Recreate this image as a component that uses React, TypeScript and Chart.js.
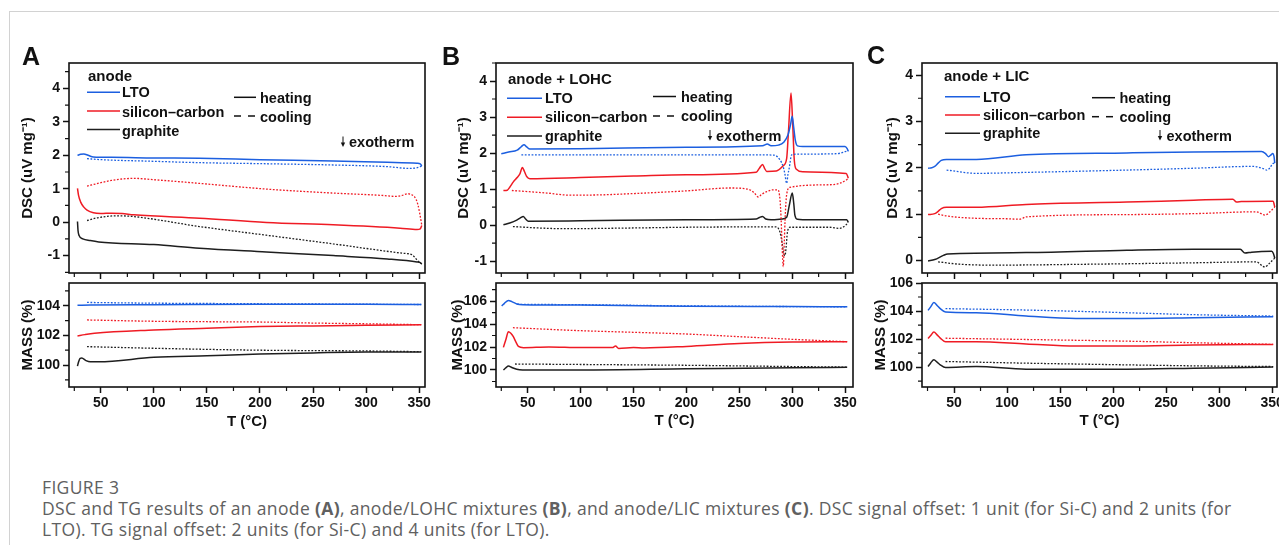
import React, { useEffect, useRef } from 'react';
import { Chart, registerables } from 'chart.js';
Chart.register(...registerables);

type Pt = [number, number];

// ---------------- Panel A : anode ----------------
const aLtoDscHeat: Pt[] = [[28,2.0],[31,2.03],[34,2.04],[38,2.0],[43,1.95],[60,1.94],[100,1.92],[143,1.91],[200,1.87],[269,1.83],[320,1.79],[348,1.76],[351,1.74],[352.5,1.68]];
const aLtoDscCool: Pt[] = [[37,1.9],[50,1.87],[100,1.82],[143,1.78],[200,1.75],[269,1.71],[320,1.66],[340,1.61],[347,1.62],[350,1.65],[352.5,1.68]];
const aSicDscHeat: Pt[] = [[28,1.01],[29,0.8],[31,0.6],[34,0.45],[37,0.36],[43,0.28],[50,0.26],[60,0.27],[70,0.26],[81,0.22],[143,0.12],[206,-0.01],[269,-0.08],[332,-0.18],[348,-0.22],[351,-0.2],[352.5,-0.1]];
const aSicDscCool: Pt[] = [[37,1.08],[50,1.18],[60,1.25],[81,1.31],[100,1.27],[143,1.16],[206,0.99],[269,0.87],[315,0.8],[328,0.77],[334,0.8],[339,0.85],[343,0.82],[347,0.69],[349,0.5],[350.5,0.27],[352.5,-0.1]];
const aGraDscHeat: Pt[] = [[28,0.02],[28.5,-0.25],[29.5,-0.4],[33,-0.5],[40,-0.55],[48,-0.59],[100,-0.67],[143,-0.78],[206,-0.89],[269,-1.0],[320,-1.1],[348,-1.19],[351,-1.21],[352.5,-1.25]];
const aGraDscCool: Pt[] = [[37,0.05],[45,0.12],[55,0.17],[65,0.19],[80,0.17],[143,-0.13],[206,-0.39],[269,-0.65],[335,-0.93],[343,-0.97],[348,-1.13],[350,-1.2],[352.5,-1.25]];

const aLtoMassHeat: Pt[] = [[28,104.03],[40,104.05],[100,104.07],[200,104.1],[300,104.1],[352,104.08]];
const aLtoMassCool: Pt[] = [[37,104.22],[60,104.2],[100,104.17],[150,104.15],[200,104.13],[300,104.1],[352,104.08]];
const aSicMassHeat: Pt[] = [[28,101.96],[35,102.05],[44,102.14],[100,102.36],[150,102.48],[200,102.59],[250,102.64],[300,102.68],[352,102.72]];
const aSicMassCool: Pt[] = [[37,103.04],[100,102.95],[150,102.92],[200,102.9],[250,102.83],[300,102.78],[352,102.72]];
const aGraMassHeat: Pt[] = [[28,99.93],[29,100.2],[30.5,100.45],[32,100.47],[36,100.3],[40,100.22],[48,100.22],[100,100.52],[150,100.63],[200,100.74],[250,100.82],[300,100.88],[352,100.88]];
const aGraMassCool: Pt[] = [[37,101.24],[100,101.13],[200,101.0],[300,100.95],[352,100.9]];

// ---------------- Panel B : anode + LOHC ----------------
const bLtoDscHeat: Pt[] = [[25,1.98],[32,2.03],[40,2.08],[44,2.18],[46.5,2.23],[49,2.17],[52,2.11],[100,2.12],[200,2.16],[272,2.2],[276.5,2.25],[280,2.2],[287,2.22],[292,2.3],[296,2.5],[298.5,2.8],[300,3.02],[301.5,2.7],[303,2.35],[305,2.2],[310,2.18],[350,2.18],[352,2.12],[353,2.05]];
const bLtoDscCool: Pt[] = [[44,1.95],[100,1.95],[200,1.95],[270,1.95],[283,1.94],[288.5,1.81],[291.5,1.62],[293,1.44],[294.8,1.16],[296,1.4],[297.3,1.6],[299.5,1.95],[305,1.97],[340,1.98],[346,2.0],[350,2.04],[353,2.05]];
const bSicDscHeat: Pt[] = [[27,0.96],[30.7,0.97],[33,1.05],[36.4,1.2],[40,1.32],[42.7,1.43],[44.9,1.6],[47,1.48],[49,1.35],[52,1.29],[100,1.32],[150,1.36],[200,1.4],[266,1.47],[269,1.58],[272,1.68],[274,1.57],[276,1.49],[285,1.5],[291.6,1.65],[294.8,1.85],[296.4,2.55],[298.9,3.67],[300.5,2.8],[302,1.8],[304,1.55],[310,1.48],[351,1.43],[352.5,1.35],[353,1.3]];
const bSicDscCool: Pt[] = [[35,0.96],[50,0.93],[68,0.89],[90,0.83],[120,0.84],[146,0.87],[200,0.95],[241,1.03],[258,1.0],[264,0.9],[268,0.78],[271,0.85],[276,0.93],[282,0.98],[286.5,0.98],[288.5,0.7],[289.5,0.2],[290.5,-0.6],[291.6,-1.15],[292.5,-0.5],[293.5,0.3],[294.8,0.85],[297.9,1.05],[335,1.12],[345,1.16],[351.5,1.26],[353,1.3]];
const bGraDscHeat: Pt[] = [[27,0.01],[33,0.06],[39.6,0.14],[43,0.2],[45.8,0.24],[48,0.17],[50.6,0.11],[100,0.12],[200,0.15],[266,0.17],[269,0.21],[272,0.24],[275,0.17],[280,0.15],[290,0.17],[294.8,0.22],[297.3,0.55],[300.1,0.89],[301.5,0.6],[302.6,0.27],[305,0.16],[310,0.15],[351.5,0.15],[353,0.08]];
const bGraDscCool: Pt[] = [[36,-0.04],[60,-0.08],[84,-0.1],[150,-0.08],[200,-0.06],[260,-0.05],[285,-0.05],[288.5,-0.2],[290.5,-0.5],[291.6,-0.75],[293.2,-0.85],[294.3,-0.6],[295.4,-0.22],[297.9,-0.06],[335,-0.06],[345,-0.09],[351,0.01],[353,0.08]];

const bLtoMassHeat: Pt[] = [[25.4,105.57],[28,105.8],[31.7,106.05],[35,105.95],[39.6,105.75],[45,105.68],[100,105.65],[200,105.55],[300,105.52],[352,105.5]];
const bLtoMassCool: Pt[] = [[40,105.72],[100,105.68],[200,105.58],[300,105.52],[352,105.5]];
const bSicMassHeat: Pt[] = [[27,101.97],[29.5,102.7],[31.7,103.33],[34,103.2],[36.4,102.9],[39,102.4],[41.2,102.05],[46,101.94],[70,102.0],[100,101.95],[130,101.95],[133,102.08],[136,101.88],[150,101.95],[160,101.92],[200,102.05],[250,102.3],[300,102.43],[352,102.46]];
const bSicMassCool: Pt[] = [[36,103.68],[100,103.42],[150,103.28],[200,103.13],[250,102.9],[300,102.67],[352,102.46]];
const bGraMassHeat: Pt[] = [[27,100.0],[29.5,100.2],[31.7,100.35],[35,100.22],[39.6,100.06],[45,100.0],[100,100.0],[200,100.1],[300,100.2],[352,100.23]];
const bGraMassCool: Pt[] = [[38,100.52],[100,100.48],[200,100.41],[300,100.3],[352,100.25]];

// ---------------- Panel C : anode + LIC ----------------
const cLtoDscHeat: Pt[] = [[25.5,1.99],[29,2.0],[31.8,2.03],[35,2.1],[38,2.16],[42.8,2.18],[71,2.18],[118,2.28],[213,2.32],[276,2.34],[340,2.35],[344,2.3],[346.5,2.24],[349,2.28],[350.6,2.31],[351.8,2.24],[352.5,2.1]];
const cLtoDscCool: Pt[] = [[43,1.95],[71,1.88],[118,1.9],[213,1.95],[276,1.99],[332,2.03],[341.7,1.98],[345,1.95],[348,2.0],[350.6,2.09],[352.5,2.1]];
const cSicDscHeat: Pt[] = [[25.5,0.99],[31.8,1.01],[35,1.06],[38,1.12],[42.8,1.15],[71,1.15],[118,1.21],[213,1.26],[276,1.3],[313,1.32],[316.5,1.26],[321,1.27],[348,1.28],[351,1.28],[352,1.2],[352.5,1.15]];
const cSicDscCool: Pt[] = [[35,1.0],[43,0.96],[71,0.91],[100,0.9],[112,0.89],[118,0.94],[213,0.99],[276,1.01],[335,1.05],[343.3,0.98],[348,1.05],[351,1.12],[352.5,1.15]];
const cGraDscHeat: Pt[] = [[25.5,-0.01],[31.8,0.02],[40,0.11],[44,0.14],[118,0.17],[213,0.22],[276,0.24],[320,0.24],[324.4,0.16],[330.7,0.18],[349.6,0.2],[351.2,0.15],[352.5,0.05]];
const cGraDscCool: Pt[] = [[35,-0.03],[55,-0.08],[87,-0.1],[180,-0.08],[276,-0.05],[335,-0.03],[343,-0.14],[348,-0.05],[351,0.02],[352.5,0.05]];

const cLtoMassHeat: Pt[] = [[25.5,104.05],[28,104.3],[31,104.6],[34,104.4],[37,104.17],[42,103.93],[71,103.88],[118,103.64],[165,103.47],[213,103.47],[276,103.52],[351,103.6]];
const cLtoMassCool: Pt[] = [[42,104.17],[118,104.07],[213,103.88],[276,103.74],[351,103.64]];
const cSicMassHeat: Pt[] = [[25.5,102.04],[28,102.25],[31,102.5],[34,102.3],[37,102.07],[42,101.8],[71,101.8],[118,101.65],[165,101.5],[213,101.5],[276,101.57],[351,101.62]];
const cSicMassCool: Pt[] = [[42,102.06],[118,101.97],[213,101.85],[276,101.74],[351,101.62]];
const cGraMassHeat: Pt[] = [[25.5,100.04],[28,100.3],[31,100.52],[34,100.35],[37,100.16],[42,99.97],[71,100.04],[118,99.85],[213,99.85],[276,99.92],[351,100.0]];
const cGraMassCool: Pt[] = [[42,100.4],[118,100.28],[213,100.16],[276,100.09],[351,100.04]];

// ---------------- labels ----------------
const MATERIALS = ['LTO', 'silicon\u2013carbon', 'graphite'];
const MODES = ['heating', 'cooling'];
const PANEL_LETTERS = ['A', 'B', 'C'];
const PANEL_HEADS = ['anode', 'anode + LOHC', 'anode + LIC'];
const DSC_TITLE = 'DSC (uV mg\u207B\u00B9)';
const MASS_TITLE = 'MASS (%)';
const X_TITLE = 'T (\u00B0C)';
const X_MAJOR = 50;
const X_MINOR = 25;

// ---------------- styles ----------------
const BLUE = '#1c5fe0';
const RED = '#ef1b24';
const BLACK = '#1e1e1e';
const INK = '#111111';
const MAT_COLORS = [BLUE, RED, BLACK];
const FONT = "'Liberation Sans', Arial, Helvetica, sans-serif";

type Series = { pts: Pt[]; color: string; dash: boolean };
type Box = { left: number; top: number; width: number; height: number };
type Plot = { left: number; top: number; right: number; bottom: number };
type Legend = {
  letter: string; letterX: number; letterY: number;
  head: string; headX: number; headY: number;
  matLine: [number, number]; matTextX: number; rows: [number, number][];
  hcLine: [number, number]; hcTextX: number; hcRows: [number, number][];
  exoX: number; exoTextX: number; exoY: number;
};
type Sub = {
  canvas: Box; plot: Plot; x: [number, number]; y: [number, number];
  yMajor: number; yMinor: number; yTitle: string; yTitleX: number;
  xLabels: boolean; xTitleY: number; series: Series[]; legend?: Legend;
};

const six = (l1: Pt[], l2: Pt[], s1: Pt[], s2: Pt[], g1: Pt[], g2: Pt[]): Series[] => [
  { pts: l2, color: BLUE, dash: true },
  { pts: s2, color: RED, dash: true },
  { pts: g2, color: BLACK, dash: true },
  { pts: l1, color: BLUE, dash: false },
  { pts: s1, color: RED, dash: false },
  { pts: g1, color: BLACK, dash: false },
];

const SUBS: Sub[] = [
  // A top
  {
    canvas: { left: 10, top: 40, width: 425, height: 240 }, plot: { left: 69, top: 63, right: 425, bottom: 273 },
    x: [20, 355.5], y: [-1.52, 4.76], yMajor: 1, yMinor: 0.5, yTitle: DSC_TITLE, yTitleX: 28.3, xLabels: false, xTitleY: 0,
    series: six(aLtoDscHeat, aLtoDscCool, aSicDscHeat, aSicDscCool, aGraDscHeat, aGraDscCool),
    legend: {
      letter: PANEL_LETTERS[0], letterX: 22, letterY: 65, head: PANEL_HEADS[0], headX: 88, headY: 80.7,
      matLine: [87, 120], matTextX: 122, rows: [[92.3, 97.3], [111, 116.7], [129.5, 135.7]],
      hcLine: [234, 256], hcTextX: 260, hcRows: [[97.3, 102.7], [116, 121.7]],
      exoX: 343, exoTextX: 349, exoY: 147,
    },
  },
  // A bottom
  {
    canvas: { left: 10, top: 272, width: 425, height: 174 }, plot: { left: 69, top: 283, right: 425, bottom: 387 },
    x: [20, 355.5], y: [98.52, 105.53], yMajor: 2, yMinor: 1, yTitle: MASS_TITLE, yTitleX: 27.5, xLabels: true, xTitleY: 421.5,
    series: six(aLtoMassHeat, aLtoMassCool, aSicMassHeat, aSicMassCool, aGraMassHeat, aGraMassCool),
  },
  // B top
  {
    canvas: { left: 435, top: 40, width: 428, height: 240 }, plot: { left: 496, top: 63, right: 853, bottom: 273 },
    x: [20, 357.5], y: [-1.33, 4.5], yMajor: 1, yMinor: 0.5, yTitle: DSC_TITLE, yTitleX: 463.5, xLabels: false, xTitleY: 0,
    series: six(bLtoDscHeat, bLtoDscCool, bSicDscHeat, bSicDscCool, bGraDscHeat, bGraDscCool),
    legend: {
      letter: PANEL_LETTERS[1], letterX: 442, letterY: 65, head: PANEL_HEADS[1], headX: 508, headY: 83.5,
      matLine: [507, 542], matTextX: 545, rows: [[98.3, 103.3], [117.3, 122.3], [136, 141]],
      hcLine: [653, 676], hcTextX: 681, hcRows: [[96.5, 101.7], [116, 121]],
      exoX: 710, exoTextX: 716, exoY: 140.5,
    },
  },
  // B bottom
  {
    canvas: { left: 435, top: 272, width: 428, height: 174 }, plot: { left: 496, top: 283, right: 853, bottom: 387 },
    x: [20, 357.5], y: [98.52, 107.57], yMajor: 2, yMinor: 1, yTitle: MASS_TITLE, yTitleX: 458, xLabels: true, xTitleY: 420.5,
    series: six(bLtoMassHeat, bLtoMassCool, bSicMassHeat, bSicMassCool, bGraMassHeat, bGraMassCool),
  },
  // C top
  {
    canvas: { left: 863, top: 40, width: 432, height: 240 }, plot: { left: 922, top: 63, right: 1277, bottom: 273 },
    x: [19.8, 354.6], y: [-0.27, 4.26], yMajor: 1, yMinor: 0.5, yTitle: DSC_TITLE, yTitleX: 893, xLabels: false, xTitleY: 0,
    series: six(cLtoDscHeat, cLtoDscCool, cSicDscHeat, cSicDscCool, cGraDscHeat, cGraDscCool),
    legend: {
      letter: PANEL_LETTERS[2], letterX: 867, letterY: 64, head: PANEL_HEADS[2], headX: 944, headY: 80.7,
      matLine: [945, 980], matTextX: 983, rows: [[96.7, 101.7], [115, 120], [133.3, 138.3]],
      hcLine: [1092, 1115], hcTextX: 1119.5, hcRows: [[97.7, 103.3], [116.7, 122]],
      exoX: 1160, exoTextX: 1166.5, exoY: 140.5,
    },
  },
  // C bottom
  {
    canvas: { left: 863, top: 272, width: 432, height: 174 }, plot: { left: 922, top: 283, right: 1277, bottom: 387 },
    x: [19.8, 354.6], y: [98.58, 106], yMajor: 2, yMinor: 1, yTitle: MASS_TITLE, yTitleX: 881, xLabels: true, xTitleY: 421,
    series: six(cLtoMassHeat, cLtoMassCool, cSicMassHeat, cSicMassCool, cGraMassHeat, cGraMassCool),
  },
];

function stepValues(min: number, max: number, step: number): number[] {
  const out: number[] = [];
  for (let k = Math.ceil(min / step - 1e-9); k * step <= max + 1e-9; k++) out.push(+(k * step).toFixed(6));
  return out;
}
const isMult = (v: number, m: number) => Math.abs(v / m - Math.round(v / m)) < 1e-6;

function drawLegend(ctx: CanvasRenderingContext2D, L: Legend, ox: number, oy: number) {
  ctx.textAlign = 'left';
  ctx.textBaseline = 'alphabetic';
  ctx.fillStyle = INK;
  ctx.font = `bold 25px ${FONT}`;
  ctx.fillText(L.letter, L.letterX - ox, L.letterY - oy);
  ctx.font = `bold 15px ${FONT}`;
  ctx.fillText(L.head, L.headX - ox, L.headY - oy);
  ctx.font = `bold 14.5px ${FONT}`;
  ctx.lineWidth = 1.5;
  MATERIALS.forEach((name, i) => {
    const [ly, by] = L.rows[i];
    ctx.strokeStyle = MAT_COLORS[i];
    ctx.setLineDash([]);
    ctx.beginPath();
    ctx.moveTo(L.matLine[0] - ox, ly - oy);
    ctx.lineTo(L.matLine[1] - ox, ly - oy);
    ctx.stroke();
    ctx.fillText(name, L.matTextX - ox, by - oy);
  });
  ctx.strokeStyle = INK;
  MODES.forEach((name, i) => {
    const [ly, by] = L.hcRows[i];
    ctx.setLineDash(i === 0 ? [] : [7, 7]);
    ctx.beginPath();
    ctx.moveTo(L.hcLine[0] - ox, ly - oy);
    ctx.lineTo(L.hcLine[1] - ox, ly - oy);
    ctx.stroke();
    ctx.fillText(name, L.hcTextX - ox, by - oy);
  });
  ctx.setLineDash([]);
  const ax = L.exoX - ox, ab = L.exoY - oy;
  ctx.lineWidth = 1;
  ctx.beginPath();
  ctx.moveTo(ax, ab - 10.5);
  ctx.lineTo(ax, ab - 3);
  ctx.stroke();
  ctx.beginPath();
  ctx.moveTo(ax - 2.2, ab - 4.5);
  ctx.lineTo(ax + 2.2, ab - 4.5);
  ctx.lineTo(ax, ab);
  ctx.closePath();
  ctx.fill();
  ctx.fillText('exotherm', L.exoTextX - ox, ab);
}

function makeChart(canvas: HTMLCanvasElement, sub: Sub) {
  const c = sub.canvas, p = sub.plot;
  const tickFont = { family: FONT, size: 14, weight: 'bold' as const };
  const titleFont = { family: FONT, size: 15, weight: 'bold' as const };
  const half = 15 * 1.2 / 2;
  const overlay = {
    id: 'overlay',
    afterDraw(chart: any) {
      const { ctx, chartArea: a } = chart;
      const xs = chart.scales.x, ys = chart.scales.y;
      ctx.save();
      ctx.strokeStyle = INK;
      ctx.lineWidth = 1.2;
      ctx.setLineDash([]);
      ctx.beginPath();
      for (const v of stepValues(sub.x[0], sub.x[1], X_MINOR)) {
        if (isMult(v, X_MAJOR)) continue;
        const px = xs.getPixelForValue(v);
        ctx.moveTo(px, a.bottom); ctx.lineTo(px, a.bottom + 4);
      }
      for (const v of stepValues(sub.y[0], sub.y[1], sub.yMinor)) {
        if (isMult(v, sub.yMajor)) continue;
        const py = ys.getPixelForValue(v);
        ctx.moveTo(a.left, py); ctx.lineTo(a.left - 4, py);
      }
      ctx.stroke();
      ctx.lineWidth = 1.6;
      ctx.strokeRect(a.left, a.top, a.right - a.left, a.bottom - a.top);
      if (sub.legend) drawLegend(ctx, sub.legend, c.left, c.top);
      ctx.restore();
    },
  };
  const grid = { display: true, drawOnChartArea: false, drawTicks: true, tickLength: 6, tickColor: INK, tickWidth: 1.5 };
  return new Chart(canvas, {
    type: 'line',
    data: {
      datasets: sub.series.map((s) => ({
        data: s.pts.map(([x, y]) => ({ x, y })),
        borderColor: s.color,
        borderWidth: s.dash ? 1.3 : 1.5,
        borderDash: s.dash ? [1.8, 1.6] : [],
        pointRadius: 0,
        fill: false,
        cubicInterpolationMode: 'monotone',
      })),
    },
    options: {
      animation: false,
      responsive: false,
      devicePixelRatio: 1,
      events: [],
      layout: { padding: { left: 0, top: p.top - c.top, right: c.left + c.width - p.right, bottom: 0 } },
      plugins: { legend: { display: false }, tooltip: { enabled: false }, title: { display: false } },
      scales: {
        x: {
          type: 'linear', position: 'bottom', min: sub.x[0], max: sub.x[1],
          afterBuildTicks: (s: any) => { s.ticks = stepValues(sub.x[0], sub.x[1], X_MAJOR).map((value) => ({ value })); },
          afterFit: (s: any) => { s.height = c.top + c.height - p.bottom; s.paddingLeft = 0; s.paddingRight = 0; },
          grid, border: { display: false },
          ticks: { display: true, autoSkip: false, maxRotation: 0, padding: 2, color: INK, font: tickFont, callback: (v: any) => (sub.xLabels ? String(v) : '') },
          title: sub.xLabels
            ? { display: true, text: X_TITLE, color: INK, font: titleFont, padding: { top: 0, bottom: c.top + c.height - half - sub.xTitleY } }
            : { display: false },
        },
        y: {
          type: 'linear', position: 'left', min: sub.y[0], max: sub.y[1],
          afterBuildTicks: (s: any) => { s.ticks = stepValues(sub.y[0], sub.y[1], sub.yMajor).map((value) => ({ value })); },
          afterFit: (s: any) => { s.width = p.left - c.left; s.paddingTop = 0; s.paddingBottom = 0; },
          grid, border: { display: false },
          ticks: { display: true, autoSkip: false, padding: 3, color: INK, font: tickFont, callback: (v: any) => String(v) },
          title: { display: true, text: sub.yTitle, color: INK, font: titleFont, padding: { top: sub.yTitleX - c.left - half, bottom: 0 } },
        },
      },
    } as any,
    plugins: [overlay],
  } as any);
}

function SubChart({ sub }: { sub: Sub }) {
  const ref = useRef<HTMLCanvasElement>(null);
  useEffect(() => {
    if (!ref.current) return;
    const chart = makeChart(ref.current, sub);
    return () => chart.destroy();
  }, [sub]);
  const c = sub.canvas;
  return (
    <canvas
      ref={ref}
      width={c.width}
      height={c.height}
      style={{ position: 'absolute', left: c.left, top: c.top, width: c.width, height: c.height }}
    />
  );
}

export default function App() {
  const capStyle: React.CSSProperties = {
    position: 'absolute', left: 42, whiteSpace: 'nowrap', fontFamily: "'Open Sans', 'Noto Sans', sans-serif",
    fontSize: 17.5, lineHeight: '21px', letterSpacing: '0.35px', color: '#606060',
  };
  return (
    <div style={{ position: 'fixed', left: 0, top: 0, width: 1279, height: 545, overflow: 'hidden', background: '#fff' }}>
      <div style={{ position: 'absolute', left: 9, top: 11, width: 1300, height: 560, borderTop: '1px solid #d2d2d2', borderLeft: '1px solid #d2d2d2' }} />
      {SUBS.map((s, i) => <SubChart key={i} sub={s} />)}
      <div style={{ ...capStyle, top: 477 }}>FIGURE 3</div>
      <div style={{ ...capStyle, top: 497.5 }}>
        DSC and TG results of an anode <b>(A)</b>, anode/LOHC mixtures <b>(B)</b>, and anode/LIC mixtures <b>(C)</b>. DSC signal offset: 1 unit (for Si-C) and 2 units (for
      </div>
      <div style={{ ...capStyle, top: 518.5 }}>LTO). TG signal offset: 2 units (for Si-C) and 4 units (for LTO).</div>
    </div>
  );
}
